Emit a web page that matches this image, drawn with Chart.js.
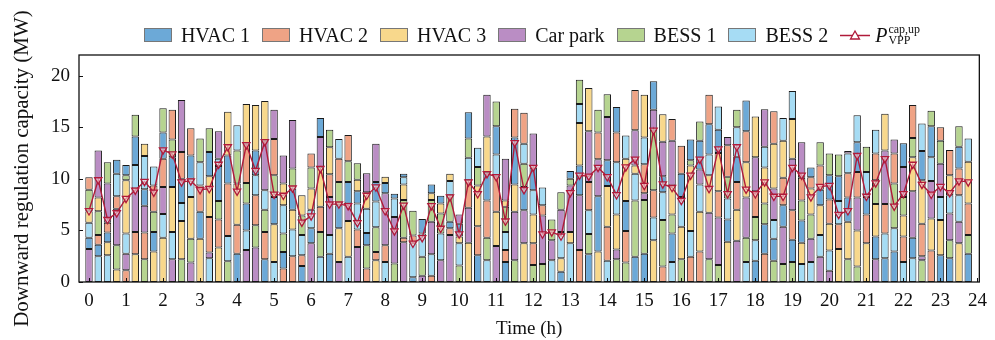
<!DOCTYPE html>
<html>
<head>
<meta charset="utf-8">
<script src="https://cdn.jsdelivr.net/npm/chart.js@4.4.1/dist/chart.umd.min.js"></script>
<style>
body { margin: 0; background: #fff; }
#wrap { position: relative; width: 995px; height: 340px; }
#legend { position: absolute; top: 24px; left: 79px; width: 906px; height: 22px; display: flex; justify-content: center; align-items: center; font-family: "Liberation Serif", serif; font-size: 20px; color: #111; }
.item { display: flex; align-items: center; margin: 0 6px; white-space: nowrap; }
.box { width: 28px; height: 14px; border: 1px solid #777; box-sizing: border-box; margin-right: 9px; }
.ss { display: inline-flex; flex-direction: column; font-size: 12px; line-height: 11px; margin-left: 1px; }
</style>
</head>
<body>
<div id="wrap">
  <canvas id="cap" width="995" height="340"></canvas>
  <div id="legend"></div>
</div>
<script>
// Capacidad por recurso (MW), un valor por cada 15 min
var hvac1 = [1.1, 1.1, 0.95, 1.35, 1.0, 2.75, 1.6, 1.9, 2.55, 2.9,
  2.35, 2.25, 2.6, 2.35, 3.4, 2.7, 2.75, 2.6, 2.4, 2.2,
  2.65, 1.6, 2.05, 1.55, 1.45, 1.85, 2.75, 2.25, 2.1, 1.2,
  1.2, 1.9, 1.0, 0.45, 0.35, 0.45, 1.4, 0.85, 0.75, 0.65,
  1.25, 2.55, 2.6, 2.75, 2.75, 1.95, 4.55, 2.25, 2.2, 0,
  0, 1.0, 0.75, 2.9, 2.7, 5.35, 2.5, 2.45, 2.9, 2.45,
  2.75, 2.75, 1.55, 2.75, 2.25, 2.0, 2.8, 2.95, 2.25, 2.15,
  2.45, 3.0, 2.05, 2.85, 2.15, 2.1, 2.15, 2.15, 0.95, 1.5,
  2.35, 2.4, 2.35, 2.9, 1.7, 2.2, 2.3, 2.95, 2.3, 2.0,
  2.85, 3.0, 2.6, 2.3, 2.1, 2.75];
var hvac2 = [1.2, 0.95, 0.95, 1.2, 1.15, 2.15, 2.6, 2.55, 2.75, 2.9,
  2.6, 2.65, 2.55, 3.45, 2.7, 5.1, 2.8, 3.8, 2.9, 2.65,
  3.5, 1.3, 2.5, 1.05, 1.35, 2.45, 2.2, 2.25, 2.55, 1.7,
  1.3, 0.8, 1.6, 0, 0.45, 0.75, 0, 0.6, 0, 0.65,
  0, 2.65, 2.8, 3.6, 3.45, 1.15, 2.8, 3.0, 2.1, 1.0,
  0, 0, 0, 3.1, 2.75, 2.6, 3.3, 2.9, 3.05, 3.9,
  2.8, 2.65, 1.5, 2.1, 2.7, 2.45, 2.95, 2.85, 2.55, 3.05,
  2.7, 3.0, 2.5, 2.75, 3.15, 2.65, 2.85, 2.2, 1.1, 2.35,
  2.35, 2.4, 2.35, 2.45, 2.8, 2.6, 2.85, 2.9, 2.45, 3.2,
  3.15, 3.05, 1.3, 2.45, 2.6, 3.05];
var hvac3 = [1.1, 1.35, 1.25, 1.2, 5.15, 2.7, 1.2, 2.95, 4.3, 4.35,
  3.7, 4.05, 4.2, 3.95, 3.35, 4.25, 4.0, 3.85, 4.4, 3.85,
  3.65, 2.1, 1.9, 1.95, 2.05, 3.85, 2.6, 3.25, 3.45, 1.1,
  1.6, 2.1, 0.6, 0, 1.5, 0, 0, 0.65, 0.95, 0.7,
  0.65, 3.8, 3.95, 3.45, 3.3, 0.6, 2.65, 3.75, 2.8, 0,
  0, 1.3, 1.1, 4.1, 4.2, 2.95, 3.95, 3.4, 4.1, 0.8,
  4.15, 4.05, 2.65, 2.8, 3.15, 6.35, 3.85, 3.65, 3.7, 3.9,
  3.0, 3.4, 3.95, 3.5, 4.35, 3.6, 3.85, 2.05, 2.5, 2.9,
  2.6, 3.2, 3.65, 3.5, 3.75, 3.15, 3.55, 0, 2.05, 3.3,
  4.2, 3.1, 3.4, 1.95, 3.75, 4.05];
var carPark = [3.2, 4.55, 3.8, 3.55, 1.6, 4.2, 2.6, 0, 2.6, 2.2,
  5.05, 1.9, 0, 0.55, 2.65, 0, 0, 3.1, 3.35, 4.8,
  2.85, 2.7, 4.7, 0, 3.75, 2.9, 3.7, 1.95, 1.7, 3.4,
  1.85, 3.7, 5.05, 4.5, 3.85, 0, 0.6, 3.15, 2.1, 4.55,
  0.9, 3.4, 0, 4.05, 3.5, 4.05, 4.7, 3.2, 3.3, 4.7,
  1.95, 2.15, 4.5, 5.3, 4.9, 3.6, 4.2, 0.95, 0, 3.4,
  0.65, 1.95, 3.35, 4.35, 0, 0, 1.45, 4.5, 4.6, 0.8,
  4.0, 3.9, 3.3, 3.65, 3.05, 3.6, 5.0, 3.45, 2.25, 2.45,
  1.1, 0, 0.25, 3.2, 0, 2.2, 5.2, 1.35, 2.9, 4.5,
  0.4, 3.65, 3.2, 2.6, 2.1, 0];
var bess1 = [2.1, 2.3, 2.05, 2.35, 0.5, 2.1, 2.2, 1.95, 2.35, 1.7,
  2.2, 2.3, 2.3, 2.3, 1.8, 2.0, 3.2, 2.0, 2.15, 2.15,
  2.1, 1.8, 1.95, 1.9, 2.05, 2.4, 1.7, 2.25, 2.0, 1.6,
  2.25, 2.4, 0, 1.8, 3.65, 2.4, 1.85, 2.1, 1.95, 2.55,
  1.6, 1.85, 1.8, 2.2, 2.4, 2.45, 2.1, 2.25, 1.65, 1.75,
  2.0, 1.7, 0.65, 2.35, 1.95, 2.2, 2.2, 2.2, 1.9, 5.45,
  5.2, 5.85, 4.5, 1.85, 2.2, 0.5, 1.85, 2.2, 1.65, 2.1,
  1.7, 2.35, 2.25, 2.0, 2.05, 1.75, 1.95, 1.95, 2.35, 2.25,
  2.1, 2.1, 2.2, 1.5, 2.45, 2.3, 0, 4.35, 1.8, 1.85,
  2.1, 1.5, 2.25, 1.75, 2.0, 1.8];
var bess2 = [1.45, 2.5, 2.6, 2.2, 1.95, 2.3, 3.2, 1.85, 2.3, 2.65,
  1.75, 1.75, 2.25, 2.3, 0.7, 2.45, 2.45, 1.9, 1.95, 1.9,
  1.95, 2.75, 2.6, 1.95, 1.8, 2.45, 1.8, 1.9, 2.45, 2.5,
  2.35, 2.5, 1.95, 1.8, 0.7, 3.3, 2.25, 2.1, 2.6, 1.4,
  2.15, 2.2, 1.85, 2.1, 2.1, 1.75, 0, 1.95, 2.35, 1.7,
  2.1, 2.55, 3.75, 1.85, 2.3, 0, 2.05, 5.05, 2.25, 2.6,
  2.6, 2.2, 2.7, 1.95, 2.9, 2.5, 2.65, 2.0, 2.25, 2.05,
  2.85, 1.95, 2.0, 2.0, 1.8, 2.2, 2.7, 1.75, 1.95, 2.1,
  1.95, 2.25, 1.9, 2.6, 2.4, 2.3, 2.4, 2.25, 1.95, 2.3,
  2.65, 2.3, 2.25, 1.75, 2.55, 2.25];

// Orden de apilado de abajo hacia arriba: A=HVAC1 B=HVAC2 C=HVAC3 D=Car park E=BESS1 F=BESS2
var stackOrder = ['DAFCEB', 'FABECD', 'FCABDE', 'CEDBFA', 'BDFCEA', 'CBDFAE', 'EBDAFC', 'CAEBFD', 'CFDBAE', 'DFCAEB',
  'ECFABD', 'DECFAB', 'CABFED', 'FDBCAE', 'CBEAFD', 'EFBACD', 'ABCEFD', 'DFAEBC', 'DEBFAC', 'ABEFDC',
  'FCAEBD', 'BAEFCD', 'BFCAED', 'ABFECD', 'DAFCEB', 'FEBCDA', 'AFDBCE', 'DCAEBF', 'FCDAEB', 'DBFACE',
  'BEAFCD', 'CBEFAD', 'FBDACE', 'EDFABC', 'DBECFA', 'AFBECD', 'DEFABC', 'BFDECA', 'DFECAB', 'DBAEFC',
  'EFCADB', 'CDBFEA', 'ABCEFD', 'FEBACD', 'DCBFAE', 'ABFECD', 'EDCABF', 'CDAEFB', 'EBCFAD', 'EDBFAC',
  'FDEABC', 'ACFDEB', 'FCDEAB', 'BDACFE', 'AEFBDC', 'CADBEF', 'FBCADE', 'EDCFBA', 'EBACFD', 'AEFCDB',
  'AEDBFC', 'CFBEDA', 'BEFADC', 'FAECDB', 'ECFABD', 'BFCEAD', 'BCFDAE', 'EDCFAB', 'EDBCAF', 'CAFEBD',
  'DCBAFE', 'FEDCBA', 'AFEBDC', 'BAECFD', 'EAFDCB', 'EDABCF', 'EABDCF', 'FCAEBD', 'FDECBA', 'DFCABE',
  'DFCBAE', 'CBFAED', 'ECABFD', 'ECDBAF', 'CBAFED', 'DACEBF', 'AFBDCE', 'AFEBDC', 'FBCEDA', 'FADCEB',
  'EDBCAF', 'BCDFAE', 'ACFDEB', 'AEDFCB', 'CDFBAE', 'AEBCFD'];

// P_VPP cap,up (MW)
var pUp = [6.9, 9.9, 6.05, 6.7, 8.1, 8.9, 9.75, 8.7, 12.8, 12.4, 9.7, 9.8, 8.95, 9.05, 11.4, 13.1,
  8.8, 13.3, 10.8, 13.6, 8.5, 8.4, 9.1, 5.8, 6.4, 11.0, 7.55, 7.55, 7.4, 5.75, 8.4, 9.2,
  6.9, 4.95, 7.45, 3.75, 4.3, 7.4, 5.2, 8.25, 4.65, 9.7, 8.55, 10.5, 10.2, 5.9, 13.5, 8.95,
  11.1, 4.65, 4.85, 4.45, 8.65, 10.35, 10.25, 11.1, 10.2, 8.45, 11.15, 11.9, 9.35, 14.7, 9.5, 9.15,
  7.9, 10.35, 11.9, 9.05, 12.9, 8.55, 13.1, 9.0, 8.55, 9.7, 8.3, 8.3, 11.1, 10.35, 8.25, 9.25,
  9.35, 6.55, 6.9, 12.25, 8.3, 9.6, 11.95, 7.35, 8.55, 11.4, 9.45, 8.5, 9.25, 8.65, 9.8, 9.7];

var xTicks = [0, 1, 2, 3, 4, 5, 6, 7, 8, 9, 10, 11, 12, 13, 14, 15, 16, 17, 18, 19, 20, 21, 22, 23, 24];
var yTicks = [0, 5, 10, 15, 20];

var seriesNames = ['HVAC 1', 'HVAC 2', 'HVAC 3', 'Car park', 'BESS 1', 'BESS 2'];
var seriesColors = ['#6CA9D7', '#EFA385', '#F8D88C', '#BA8DC4', '#B6D490', '#A6DCF4'];
var seriesKeys = 'ABCDEF';
var seriesValues = [hvac1, hvac2, hvac3, carPark, bess1, bess2];
var lineColor = '#B01A3A';

var times = hvac1.map((v, i) => i / 4);

// barras flotantes [base, tope] según el orden de cada intervalo
function floatingData(k) {
    var out = [];
    times.forEach((t, i) => {
        var v = seriesValues[k][i];
        if (!v) return;
        var order = stackOrder[i];
        var pos = order.indexOf(seriesKeys[k]);
        var base = 0;
        for (var j = 0; j < pos; j++) base += seriesValues[seriesKeys.indexOf(order[j])][i];
        out.push({x: t, y: [base, base + v]});
    });
    return out;
}

var datasets = seriesNames.map((name, k) => ({
    type: 'bar',
    label: name,
    data: floatingData(k),
    backgroundColor: seriesColors[k],
    borderColor: '#1a1a1a',
    borderWidth: 1,
    borderSkipped: false,
    grouped: false,
    barPercentage: 0.8,
    categoryPercentage: 1,
    order: 2
}));

datasets.push({
    type: 'line',
    label: 'P VPP cap,up',
    data: pUp.map((v, i) => ({x: times[i], y: v})),
    borderColor: lineColor,
    borderWidth: 1.4,
    tension: 0,
    pointStyle: 'triangle',
    rotation: 180,
    pointRadius: 4.2,
    pointBorderWidth: 1.3,
    pointBorderColor: lineColor,
    pointBackgroundColor: 'rgba(255,235,235,0.55)',
    order: 0
});

// marco y marcas hacia dentro
const framePlugin = {
    id: 'frame',
    afterDatasetsDraw(chart) {
        const {ctx, chartArea: a, scales} = chart;
        ctx.save();
        ctx.strokeStyle = '#111';
        ctx.lineWidth = 1;
        ctx.beginPath();
        xTicks.forEach(v => {
            const px = Math.round(scales.x.getPixelForValue(v)) + 0.5;
            ctx.moveTo(px, a.bottom);
            ctx.lineTo(px, a.bottom - 4);
        });
        yTicks.forEach(v => {
            const py = Math.round(scales.y.getPixelForValue(v)) + 0.5;
            ctx.moveTo(a.left, py);
            ctx.lineTo(a.left + 4, py);
        });
        ctx.stroke();
        ctx.lineWidth = 1.3;
        ctx.strokeRect(a.left, a.top, a.right - a.left, a.bottom - a.top);
        ctx.restore();
    }
};

const font = {family: '"Liberation Serif", serif', size: 19};

const ctx = document.getElementById('cap');
const capChart = new Chart(ctx, {
    type: 'bar',
    data: {datasets: datasets},
    options: {
        responsive: false,
        animation: false,
        layout: {padding: {top: 55, right: 10, left: 0, bottom: 0}},
        plugins: {legend: {display: false}, tooltip: {enabled: false}},
        scales: {
            x: {
                type: 'linear',
                offset: false,
                min: -0.27,
                max: 24.05,
                grid: {display: false, drawTicks: false},
                border: {display: false},
                afterBuildTicks: s => { s.ticks = xTicks.map(v => ({value: v})); },
                afterFit: s => { s.height = 58; },
                ticks: {font: font, color: '#111', padding: 8, maxRotation: 0, autoSkip: false},
                title: {display: true, text: 'Time (h)', font: font, color: '#111', padding: {top: 2, bottom: 0}}
            },
            y: {
                min: 0,
                max: 22,
                grid: {display: false, drawTicks: false},
                border: {display: false},
                afterBuildTicks: s => { s.ticks = yTicks.map(v => ({value: v})); },
                afterFit: s => { s.width = 79; },
                ticks: {font: font, color: '#111', padding: 9},
                title: {display: true, text: 'Downward regulation capacity (MW)', font: {family: font.family, size: 21}, color: '#111', padding: {top: 10, bottom: 0}}
            }
        }
    },
    plugins: [framePlugin]
});

// leyenda
var legend = document.getElementById('legend');
seriesNames.forEach((name, k) => {
    var it = document.createElement('div');
    it.className = 'item';
    it.innerHTML = '<span class="box" style="background:' + seriesColors[k] + '"></span><span>' + name + '</span>';
    legend.appendChild(it);
});
var li = document.createElement('div');
li.className = 'item';
li.innerHTML = '<svg width="30" height="14" style="margin-right:5px"><line x1="0" y1="7.5" x2="30" y2="7.5" stroke="' + lineColor +
    '" stroke-width="1.5"/><polygon points="15,3 19.5,11 10.5,11" fill="#fff" stroke="' + lineColor + '" stroke-width="1.3"/></svg>' +
    '<i>P</i><span class="ss"><span>cap,up</span><span>VPP</span></span>';
legend.appendChild(li);
</script>
</body>
</html>
